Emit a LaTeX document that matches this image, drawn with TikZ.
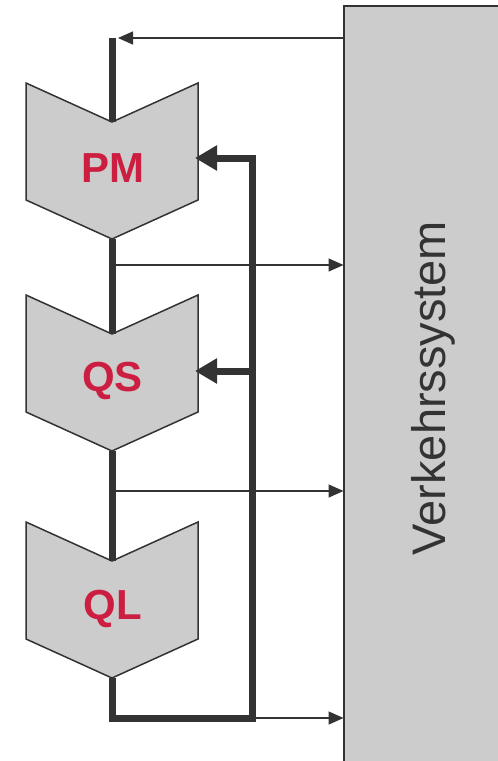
\documentclass[tikz,border=0pt]{standalone}
\usepackage{fontspec}
\setmainfont{Liberation Sans}
\usetikzlibrary{arrows.meta}
\definecolor{dk}{RGB}{51,51,51}
\definecolor{fillg}{RGB}{204,204,204}
\definecolor{lbl}{RGB}{204,30,64}
\tikzset{
  chev/.style={draw=dk, fill=fillg, line width=1.5pt, line join=miter},
  thickln/.style={draw=dk, line width=7pt},
  thinarrow/.style={draw=dk, line width=1.5pt, -{Triangle[length=15pt,width=13pt]}},
  thickarrow/.style={draw=dk, line width=7pt, -{Triangle[length=22pt,width=24pt]}},
  lab/.style={text=lbl, font=\fontsize{42}{42}\selectfont\bfseries, inner sep=0pt, anchor=base},
}
\begin{document}
\begin{tikzpicture}[x=1pt,y=-1pt]
\useasboundingbox (0,0) rectangle (498,761);
\fill[white] (0,0) rectangle (498,761);
% Verkehrssystem block
\draw[draw=dk, fill=fillg, line width=2pt] (343.5,6) rectangle (520,790);
\node[rotate=90, anchor=base, inner sep=0pt, text=dk, font=\fontsize{47}{47}\selectfont] (vs) at (445,388) {Verkehrssystem};
\coordinate (vsTop) at (343.5,38);
\coordinate (vs1) at (343.5,265);
\coordinate (vs2) at (343.5,491);
\coordinate (vs3) at (343.5,718);
% chevrons
\foreach \n/\t in {pm/83, qs/295, ql/522}{
  \draw[chev] (26,\t) -- (112,\t+39) -- (198,\t) -- (198,\t+117) -- (112,\t+156) -- (26,\t+117) -- cycle;
  \coordinate (\n-in) at (112,\t+39);
  \coordinate (\n-out) at (112,\t+156);
  \coordinate (\n-side) at (196,\t+76);
}
\node[lab] (pm) at (112.5,182) {PM};
\node[lab] (qs) at (112.5,391) {QS};
\node[lab] (ql) at (112.5,619) {QL};
% main flow (thick)
\coordinate (start) at (112,38);
\coordinate (j1) at (112,265);
\coordinate (j2) at (112,491);
\coordinate (corner) at (112,718);
\coordinate (fb) at (252,718);
\coordinate (fbtop) at (252,158);
\coordinate (fbqs) at (252,371);
\path[thickln] (start) -- (pm-in);
\path[thickln] (pm-out) -- (qs-in);
\path[thickln] (qs-out) -- (ql-in);
% thin arrows to the system
\draw[thinarrow] (115.5,265) -- (vs1);
\draw[thinarrow] (115.5,491) -- (vs2);
\draw[thinarrow] (fb) -- (vs3);
% arrow from the system to the top
\draw[thinarrow] (vsTop) -- (118,38);
% feedback line
\draw[thickln, line join=miter] (ql-out) -- (corner) -- (fb) -- (fbtop) -- (218,158);
\draw[thickarrow] (fbtop) -- (195,158);
\draw[thickarrow] (fbqs) -- (195,371);
\end{tikzpicture}
\end{document}
